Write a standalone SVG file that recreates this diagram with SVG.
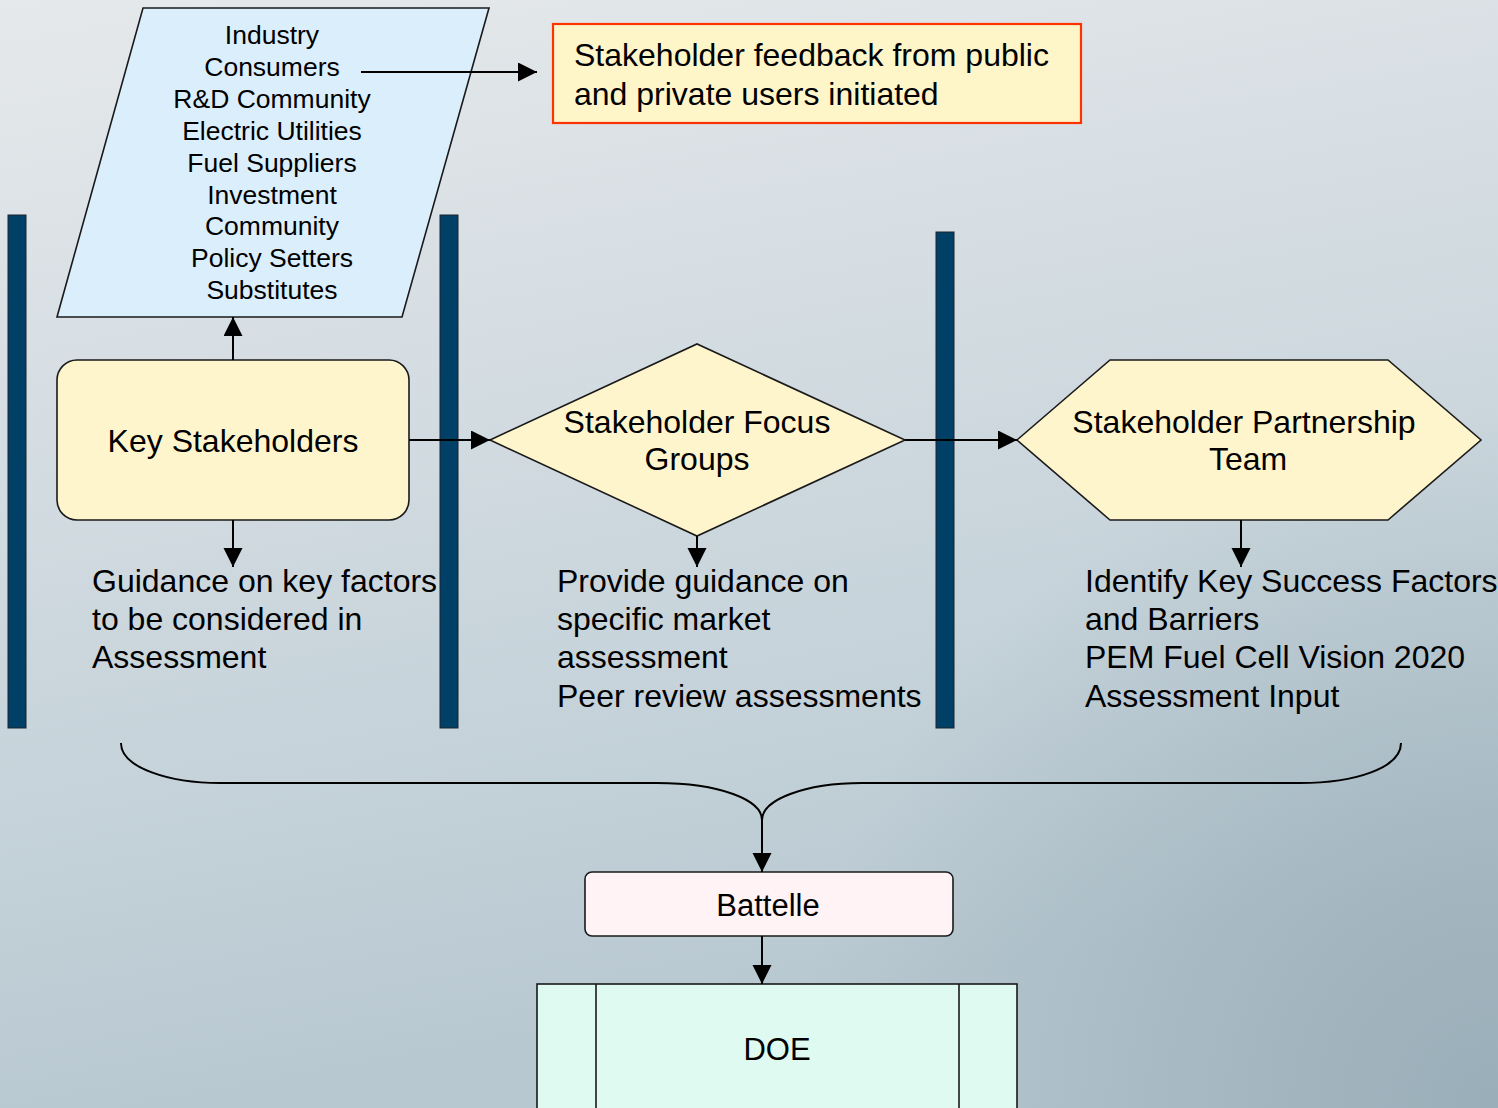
<svg xmlns="http://www.w3.org/2000/svg" width="1498" height="1108" viewBox="0 0 1498 1108">
  <defs>
    <linearGradient id="bg" gradientUnits="userSpaceOnUse" x1="0" y1="0" x2="200" y2="1108">
      <stop offset="0" stop-color="#e6e9eb"/>
      <stop offset="0.35" stop-color="#d6dee3"/>
      <stop offset="0.7" stop-color="#c6d3da"/>
      <stop offset="1" stop-color="#b8c8d1"/>
    </linearGradient>
    <radialGradient id="shade" gradientUnits="userSpaceOnUse" cx="1498" cy="1108" r="700">
      <stop offset="0" stop-color="#8fa5b0" stop-opacity="0.75"/>
      <stop offset="1" stop-color="#8fa5b0" stop-opacity="0"/>
    </radialGradient>
    <marker id="arr" markerUnits="userSpaceOnUse" markerWidth="20" markerHeight="20" refX="19" refY="9.5" orient="auto">
      <path d="M0,0 L19,9.5 L0,19 z" fill="#000"/>
    </marker>
    <style>
      text { font-family: "Liberation Sans", Arial, sans-serif; fill: #000; }
      .list { font-size: 26.5px; text-anchor: middle; }
      .big { font-size: 32px; }
      .mid { text-anchor: middle; }
      .node { fill: #fff5cc; stroke: #1a1a1a; stroke-width: 1.6; }
      .bar { fill: #003f66; stroke: #1a2530; stroke-width: 1; }
      .conn { fill: none; stroke: #000; stroke-width: 2; }
    </style>
  </defs>

  <rect x="0" y="0" width="1498" height="1108" fill="url(#bg)"/>
  <rect x="0" y="0" width="1498" height="1108" fill="url(#shade)"/>

  <g id="bars">
    <rect class="bar" x="8" y="215" width="18" height="513"/>
    <rect class="bar" x="440" y="215" width="18" height="513"/>
    <rect class="bar" x="936" y="232" width="18" height="496"/>
  </g>

  <g id="stakeholder-list">
    <polygon points="143,8 489,8 402,317 57,317" fill="#dbeefc" stroke="#1a1a1a" stroke-width="1.6"/>
    <text class="list" x="272" y="44">Industry</text>
    <text class="list" x="272" y="76">Consumers</text>
    <text class="list" x="272" y="108">R&amp;D Community</text>
    <text class="list" x="272" y="140">Electric Utilities</text>
    <text class="list" x="272" y="172">Fuel Suppliers</text>
    <text class="list" x="272" y="204">Investment</text>
    <text class="list" x="272" y="235">Community</text>
    <text class="list" x="272" y="267">Policy Setters</text>
    <text class="list" x="272" y="299">Substitutes</text>
  </g>

  <g id="feedback">
    <rect x="553" y="24" width="528" height="99" fill="#fef5c9" stroke="#ff3300" stroke-width="2.2"/>
    <text class="big" x="574" y="66">Stakeholder feedback from public</text>
    <text class="big" x="574" y="105">and private users initiated</text>
  </g>

  <g id="key-stakeholders">
    <rect class="node" x="57" y="360" width="352" height="160" rx="20" ry="20"/>
    <text class="big mid" x="233" y="452">Key Stakeholders</text>
  </g>

  <g id="focus-groups">
    <polygon class="node" points="490,440 697,344 905,440 697,536"/>
    <text class="big mid" x="697" y="433">Stakeholder Focus</text>
    <text class="big mid" x="697" y="470">Groups</text>
  </g>

  <g id="partnership-team">
    <polygon class="node" points="1017,440 1110,360 1388,360 1481,440 1388,520 1110,520"/>
    <text class="big mid" x="1244" y="433">Stakeholder Partnership</text>
    <text class="big mid" x="1248" y="470">Team</text>
  </g>

  <g id="guidance">
    <text class="big" x="92" y="592">Guidance on key factors</text>
    <text class="big" x="92" y="630">to be considered in</text>
    <text class="big" x="92" y="668">Assessment</text>
  </g>

  <g id="provide-guidance">
    <text class="big" x="557" y="592">Provide guidance on</text>
    <text class="big" x="557" y="630">specific market</text>
    <text class="big" x="557" y="668">assessment</text>
    <text class="big" x="557" y="707">Peer review assessments</text>
  </g>

  <g id="success-factors">
    <text class="big" x="1085" y="592">Identify Key Success Factors</text>
    <text class="big" x="1085" y="630">and Barriers</text>
    <text class="big" x="1085" y="668">PEM Fuel Cell Vision 2020</text>
    <text class="big" x="1085" y="707">Assessment Input</text>
  </g>

  <g id="battelle">
    <rect x="585" y="872" width="368" height="64" rx="7" ry="7" fill="#fff3f6" stroke="#1a1a1a" stroke-width="1.6"/>
    <text class="mid" x="768" y="916" font-size="31">Battelle</text>
  </g>

  <g id="doe">
    <rect x="537" y="984" width="480" height="140" fill="#dffaf0" stroke="#1a1a1a" stroke-width="1.6"/>
    <line x1="596" y1="984" x2="596" y2="1110" stroke="#1a1a1a" stroke-width="1.6"/>
    <line x1="959" y1="984" x2="959" y2="1110" stroke="#1a1a1a" stroke-width="1.6"/>
    <text class="mid" x="777" y="1060" font-size="31">DOE</text>
  </g>

  <g id="connectors">
    <line class="conn" x1="361" y1="72" x2="537" y2="72" marker-end="url(#arr)"/>
    <line class="conn" x1="233" y1="360" x2="233" y2="317" marker-end="url(#arr)"/>
    <line class="conn" x1="233" y1="520" x2="233" y2="567" marker-end="url(#arr)"/>
    <line class="conn" x1="409" y1="440" x2="490" y2="440" marker-end="url(#arr)"/>
    <line class="conn" x1="697" y1="536" x2="697" y2="567" marker-end="url(#arr)"/>
    <line class="conn" x1="905" y1="440" x2="1017" y2="440" marker-end="url(#arr)"/>
    <line class="conn" x1="1241" y1="520" x2="1241" y2="567" marker-end="url(#arr)"/>
    <path class="conn" d="M121,743 C121,768 170,783 220,783 L657,783 C720,783 762,800 762,820 C762,800 804,783 862,783 L1300,783 C1355,783 1401,768 1401,743"/>
    <line class="conn" x1="762" y1="820" x2="762" y2="872" marker-end="url(#arr)"/>
    <line class="conn" x1="762" y1="936" x2="762" y2="984" marker-end="url(#arr)"/>
  </g>
</svg>
